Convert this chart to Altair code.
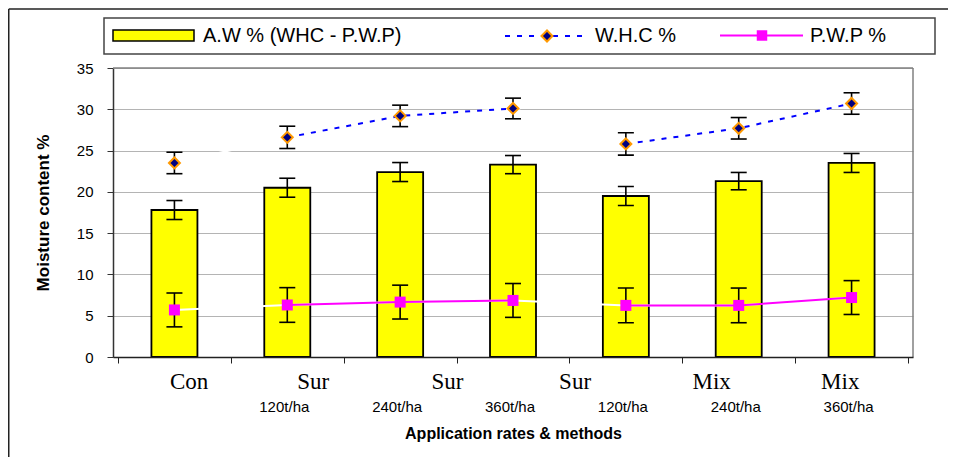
import altair as alt
import pandas as pd

# ---- data ----
categories = ["Con", "Sur 120t/ha", "Sur 240t/ha", "Sur 360t/ha",
              "Mix 120t/ha", "Mix 240t/ha", "Mix 360t/ha"]
methods = ["Con", "Sur", "Sur", "Sur", "Mix", "Mix", "Mix"]
rate_labels = ["", "120t/ha", "240t/ha", "360t/ha", "120t/ha", "240t/ha", "360t/ha"]

aw = [17.8, 20.5, 22.4, 23.3, 19.5, 21.3, 23.5]
aw_err = [1.15, 1.15, 1.15, 1.1, 1.15, 1.05, 1.15]
whc = [23.5, 26.6, 29.2, 30.1, 25.8, 27.7, 30.7]
whc_err = [1.3, 1.35, 1.3, 1.25, 1.35, 1.3, 1.3]
pwp = [5.7, 6.3, 6.65, 6.85, 6.25, 6.25, 7.2]
pwp_err = [2.05, 2.1, 2.05, 2.05, 2.1, 2.1, 2.05]

# first line of the category labels (as printed, offset from the bars)
top_labels = ["Con", "Sur", "Sur", "Sur", "Mix", "Mix"]
top_label_pos = [1.13, 2.23, 3.42, 4.55, 5.76, 6.90]

legend_labels = ["A.W % (WHC - P.W.P)", "W.H.C %", "P.W.P %"]
y_ticks = [0, 5, 10, 15, 20, 25, 30, 35]
x_title = "Application rates & methods"
y_title = "Moisture content %"

W, H = 800, 289
FONT = "Liberation Sans"

idx = list(range(1, len(categories) + 1))


def frame(vals, errs):
    return pd.DataFrame({
        "idx": idx,
        "category": categories,
        "method": methods,
        "value": vals,
        "lo": [v - e for v, e in zip(vals, errs)],
        "hi": [v + e for v, e in zip(vals, errs)],
    })


aw_df = frame(aw, aw_err)
whc_df = frame(whc, whc_err)
pwp_df = frame(pwp, pwp_err)
err_df = pd.concat([aw_df, whc_df, pwp_df], ignore_index=True)
rate_df = pd.DataFrame({"idx": idx, "rate": rate_labels})
top_df = pd.DataFrame({"idx": top_label_pos, "label": top_labels})
one = pd.DataFrame({"k": [0]})

x_scale = alt.Scale(domain=[0.5, 7.5], nice=False, zero=False)
x_axis = alt.Axis(
    values=[i + 0.5 for i in range(0, 8)], labels=False, grid=False,
    tickSize=6, tickColor="#222", tickWidth=1, domainColor="#222", domainWidth=1.5,
    zindex=1, title=x_title, titleFont=FONT, titleFontSize=16, titleFontWeight="bold",
    titleColor="#000", titleX=W / 2, titleY=81, titleAlign="center",
    titleBaseline="alphabetic")
y_scale = alt.Scale(domain=[0, 35], nice=False, zero=True)
y_axis = alt.Axis(
    values=y_ticks, tickSize=6, tickColor="#333", tickWidth=1,
    domainColor="#333", domainWidth=1.5, labelFont=FONT, labelFontSize=15,
    labelColor="#000", labelPadding=14, labelBaseline="middle",
    grid=True, gridColor="#b4b4b4", gridWidth=1,
    title=y_title, titleFont=FONT, titleFontSize=17, titleFontWeight="bold",
    titleColor="#000", titleAngle=270, titleX=-65, titleY=H / 2,
    titleAlign="center", titleBaseline="alphabetic")


def X(field="idx"):
    return alt.X(f"{field}:Q", scale=x_scale, axis=x_axis)


def Y(field):
    return alt.Y(f"{field}:Q", scale=y_scale, axis=y_axis)


bars = alt.Chart(aw_df).mark_bar(size=46, color="#FFFF00", stroke="#000000",
                                 strokeWidth=1.8).encode(x=X(), y=Y("value"))

whc_white = alt.Chart(whc_df).mark_line(color="white", strokeWidth=2).encode(
    x=X(), y=Y("value"))
pwp_white = alt.Chart(pwp_df).mark_line(color="white", strokeWidth=2).encode(
    x=X(), y=Y("value"))

whc_line = alt.Chart(whc_df[whc_df["method"] != "Con"]).mark_line(
    color="#0000FF", strokeWidth=2, strokeDash=[5, 7]).encode(
    x=X(), y=Y("value"), detail="method:N")
pwp_line = alt.Chart(pwp_df[pwp_df["method"] != "Con"]).mark_line(
    color="#FF00FF", strokeWidth=2).encode(
    x=X(), y=Y("value"), detail="method:N")

err_v = alt.Chart(err_df).mark_rule(color="black", strokeWidth=1.6).encode(
    x=X(), y=Y("lo"), y2="hi:Q")
cap_lo = alt.Chart(err_df).mark_tick(color="black", orient="horizontal", size=16,
                                     thickness=1.6, opacity=1).encode(x=X(), y=Y("lo"))
cap_hi = alt.Chart(err_df).mark_tick(color="black", orient="horizontal", size=16,
                                     thickness=1.6, opacity=1).encode(x=X(), y=Y("hi"))

whc_pts = alt.Chart(whc_df).mark_point(shape="diamond", filled=True, fill="#000080",
                                       stroke="#FF9900", strokeWidth=2, size=120,
                                       opacity=1).encode(x=X(), y=Y("value"))
pwp_pts = alt.Chart(pwp_df).mark_square(size=121, color="#FF00FF", opacity=1).encode(
    x=X(), y=Y("value"))

rate_text = alt.Chart(rate_df).mark_text(font=FONT, fontSize=15, baseline="alphabetic",
                                         align="center", dx=-3, color="#000").encode(
    x=X(), y=alt.value(H + 55), text="rate:N")
top_text = alt.Chart(top_df).mark_text(font="Liberation Serif", fontSize=23,
                                       baseline="alphabetic", align="center",
                                       color="#000").encode(
    x=X(), y=alt.value(H + 32), text="label:N")

# plot border (top and right)
border_top = alt.Chart(one).mark_rule(color="#808080", strokeWidth=1.5).encode(
    x=alt.value(0), x2=alt.value(W), y=alt.value(0))
border_right = alt.Chart(one).mark_rule(color="#808080", strokeWidth=1.5).encode(
    x=alt.value(W), y=alt.value(0), y2=alt.value(H))

# outer chart frame (only left and top edges are inside the picture)
outer_left = alt.Chart(one).mark_rule(color="#222", strokeWidth=1.5).encode(
    x=alt.value(-104.25), y=alt.value(-59), y2=alt.value(H + 100))
outer_top = alt.Chart(one).mark_rule(color="#222", strokeWidth=1.5).encode(
    x=alt.value(-104.25), x2=alt.value(W + 35), y=alt.value(-59))

# legend
leg_box = alt.Chart(one).mark_rect(fill="white", stroke="#444", strokeWidth=1.5).encode(
    x=alt.value(-9), x2=alt.value(822), y=alt.value(-50), y2=alt.value(-14))
leg_sw = alt.Chart(one).mark_rect(fill="#FFFF00", stroke="#000", strokeWidth=1.5).encode(
    x=alt.value(0), x2=alt.value(81), y=alt.value(-38), y2=alt.value(-27))
leg_t1 = alt.Chart(one).mark_text(text=legend_labels[0], font=FONT, fontSize=20,
                                  align="left", baseline="alphabetic", color="#000").encode(
    x=alt.value(90), y=alt.value(-26.5))
leg_l2 = alt.Chart(one).mark_rule(color="#0000FF", strokeWidth=2, strokeDash=[5, 7]).encode(
    x=alt.value(392), x2=alt.value(470), y=alt.value(-32))
leg_p2 = alt.Chart(one).mark_point(shape="diamond", filled=True, fill="#000080",
                                   stroke="#FF9900", strokeWidth=2, size=120,
                                   opacity=1).encode(x=alt.value(434), y=alt.value(-32))
leg_t2 = alt.Chart(one).mark_text(text=legend_labels[1], font=FONT, fontSize=20,
                                  align="left", baseline="alphabetic", color="#000").encode(
    x=alt.value(482), y=alt.value(-26.5))
leg_l3 = alt.Chart(one).mark_rule(color="#FF00FF", strokeWidth=2).encode(
    x=alt.value(607), x2=alt.value(690), y=alt.value(-32.5))
leg_p3 = alt.Chart(one).mark_square(size=110, color="#FF00FF", opacity=1).encode(
    x=alt.value(649), y=alt.value(-32.5))
leg_t3 = alt.Chart(one).mark_text(text=legend_labels[2], font=FONT, fontSize=20,
                                  align="left", baseline="alphabetic", color="#000").encode(
    x=alt.value(697), y=alt.value(-26.5))

chart = alt.layer(
    bars, whc_white, pwp_white, whc_line, pwp_line,
    err_v, cap_lo, cap_hi, whc_pts, pwp_pts,
    rate_text, top_text, border_top, border_right, outer_left, outer_top,
    leg_box, leg_sw, leg_t1, leg_l2, leg_p2, leg_t2, leg_l3, leg_p3, leg_t3,
).properties(
    width=W, height=H,
    padding={"left": 105, "top": 60, "right": 35, "bottom": 100},
    autosize=alt.AutoSizeParams(type="none"),
    background="white",
).configure_view(strokeWidth=0)

chart.save("out.html", embed_options={"renderer": "svg", "actions": False})
